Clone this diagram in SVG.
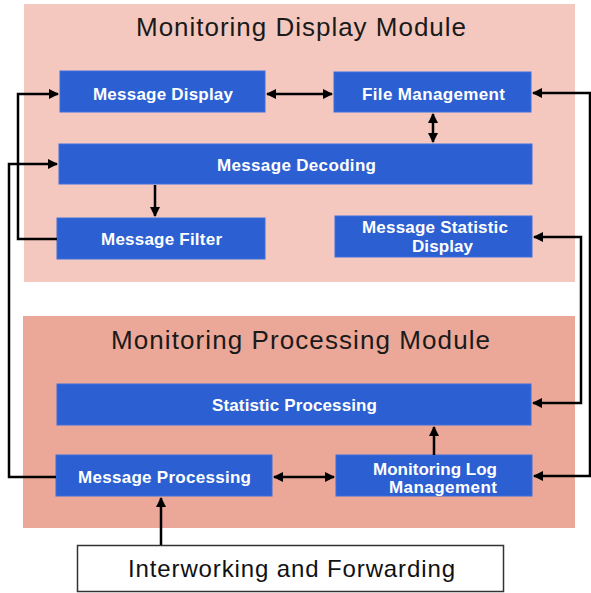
<svg xmlns="http://www.w3.org/2000/svg" width="591" height="593" viewBox="0 0 591 593">
  <style>
    .panel-top { fill: #f4c8bf; }
    .panel-bottom { fill: #eba797; }
    .title { font-family: "Liberation Sans", Arial, sans-serif; font-size: 26px; fill: #1a1a1a; text-anchor: middle; }
    .box { fill: #2b5fd2; stroke: #3d6fdc; stroke-width: 1; }
    .label { font-family: "Liberation Sans", Arial, sans-serif; font-size: 17px; font-weight: bold; fill: #ffffff; text-anchor: middle; }
    .ext { fill: #ffffff; stroke: #333333; stroke-width: 1.5; }
    .ext-label { font-family: "Liberation Sans", Arial, sans-serif; font-size: 24px; fill: #111111; text-anchor: middle; }
    .conn { fill: none; stroke: #000000; stroke-width: 2.5; }
  </style>
  <defs>
    <marker id="arrow" viewBox="0 0 10 10" refX="9" refY="5" markerWidth="4.4" markerHeight="4" orient="auto-start-reverse" markerUnits="strokeWidth">
      <path d="M0,0 L10,5 L0,10 Z" fill="#000000"/>
    </marker>
  </defs>

  <rect width="591" height="593" fill="#ffffff"/>

  <!-- module panels -->
  <g id="display-module">
    <rect class="panel-top" x="24" y="4" width="551" height="278"/>
    <text class="title" x="301" y="36" textLength="330">Monitoring Display Module</text>
  </g>
  <g id="processing-module">
    <rect class="panel-bottom" x="23" y="316" width="552" height="212"/>
    <text class="title" x="300.5" y="349" textLength="379">Monitoring Processing Module</text>
  </g>

  <!-- display module nodes -->
  <g id="message-display">
    <rect class="box" x="60" y="71" width="205" height="41"/>
    <text class="label" x="163" y="100" textLength="140">Message Display</text>
  </g>
  <g id="file-management">
    <rect class="box" x="334" y="72" width="197" height="40"/>
    <text class="label" x="433.5" y="100" textLength="143">File Management</text>
  </g>
  <g id="message-decoding">
    <rect class="box" x="59" y="144" width="473" height="40"/>
    <text class="label" x="296.5" y="171" textLength="159">Message Decoding</text>
  </g>
  <g id="message-filter">
    <rect class="box" x="57" y="218" width="208" height="41"/>
    <text class="label" x="161.5" y="245" textLength="121">Message Filter</text>
  </g>
  <g id="message-statistic-display">
    <rect class="box" x="335" y="216" width="197" height="41"/>
    <text class="label" x="435" y="233" textLength="146">Message Statistic</text>
    <text class="label" x="442.5" y="252" textLength="61">Display</text>
  </g>

  <!-- processing module nodes -->
  <g id="statistic-processing">
    <rect class="box" x="57" y="384" width="474" height="41"/>
    <text class="label" x="294.5" y="411" textLength="165">Statistic Processing</text>
  </g>
  <g id="message-processing">
    <rect class="box" x="56" y="455" width="216" height="41"/>
    <text class="label" x="164.5" y="483" textLength="173">Message Processing</text>
  </g>
  <g id="monitoring-log-management">
    <rect class="box" x="336" y="455" width="196" height="41"/>
    <text class="label" x="435" y="475" textLength="124">Monitoring Log</text>
    <text class="label" x="443" y="493" textLength="108">Management</text>
  </g>

  <!-- external source -->
  <g id="interworking-forwarding">
    <rect class="ext" x="77.5" y="545.5" width="426" height="46"/>
    <text class="ext-label" x="291.5" y="577" textLength="327">Interworking and Forwarding</text>
  </g>

  <!-- connectors -->
  <g id="connectors">
    <path class="conn" d="M267,94 L332,94" marker-start="url(#arrow)" marker-end="url(#arrow)"/>
    <path class="conn" d="M433,114 L433,142" marker-start="url(#arrow)" marker-end="url(#arrow)"/>
    <path class="conn" d="M155,185 L155,216" marker-end="url(#arrow)"/>
    <path class="conn" d="M57,239 L18,239 L18,94 L58,94" marker-end="url(#arrow)"/>
    <path class="conn" d="M56,477 L9,477 L9,164 L57,164" marker-end="url(#arrow)"/>
    <path class="conn" d="M533,93 L590,93 L590,476 L534,476" marker-start="url(#arrow)" marker-end="url(#arrow)"/>
    <path class="conn" d="M534,237 L581,237 L581,403 L533,403" marker-start="url(#arrow)" marker-end="url(#arrow)"/>
    <path class="conn" d="M274,477 L334,477" marker-start="url(#arrow)" marker-end="url(#arrow)"/>
    <path class="conn" d="M434,455 L434,427" marker-end="url(#arrow)"/>
    <path class="conn" d="M161,545 L161,498" marker-end="url(#arrow)"/>
  </g>
</svg>
